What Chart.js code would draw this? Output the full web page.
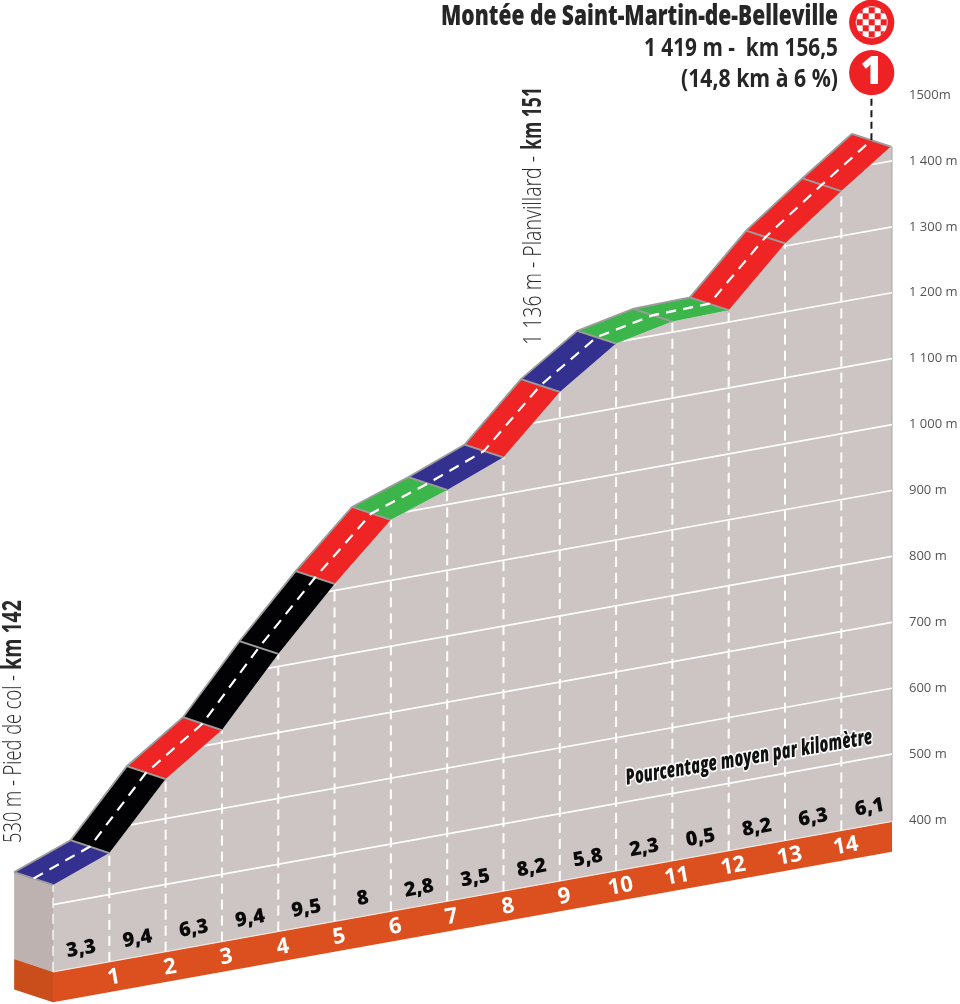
<!DOCTYPE html>
<html lang="fr">
<head>
<meta charset="utf-8">
<title>Montée de Saint-Martin-de-Belleville</title>
<script src="https://cdn.jsdelivr.net/npm/chart.js@4"></script>
<style>
    html, body { margin: 0; padding: 0; background: #fff; }
    canvas { display: block; }
</style>
</head>
<body>
<canvas id="profil" width="960" height="1004"></canvas>
<script>
/* =======================================================
   DATA
======================================================= */
const kmPoints = [0, 1, 2, 3, 4, 5, 6, 7, 8, 9, 10, 11, 12, 13, 14, 14.88];
const elevations = [530, 563, 660, 719, 819, 910, 992, 1022, 1056, 1140, 1198, 1216, 1218, 1304, 1368, 1422];
const segmentColors = ["blue", "black", "red", "black", "black", "red", "green", "blue", "red", "blue", "green", "green", "red", "red", "red"];
const percentLabels = ["3,3", "9,4", "6,3", "9,4", "9,5", "8", "2,8", "3,5", "8,2", "5,8", "2,3", "0,5", "8,2", "6,3", "6,1"];
const kmLabels = ["1", "2", "3", "4", "5", "6", "7", "8", "9", "10", "11", "12", "13", "14"];
const yTickValues = [400, 500, 600, 700, 800, 900, 1000, 1100, 1200, 1300, 1400, 1500];
const yTickLabels = ["400 m", "500 m", "600 m", "700 m", "800 m", "900 m", "1 000 m", "1 100 m", "1 200 m", "1 300 m", "1 400 m", "1500m"];

const PALETTE = { blue: "#33308f", black: "#020204", red: "#ee2524", green: "#3cb54a" };
const EDGE = "#9c9c9c";

// road depth, in km and metres
const DEPTH_KM = -0.69;
const DEPTH_M = 30;
const BASE_TOP = 398;
const BASE_BOTTOM = 352;
const SHEAR = -10.1 / 56.3;
const rightKm = 14.9;

/* =======================================================
   DATASETS (in paint order, reversed at the end)
======================================================= */
function poly(points, color) {
    return {
        data: points.map(p => ({ x: p[0], y: p[1] })),
        fill: "shape",
        backgroundColor: color,
        borderWidth: 0,
        pointRadius: 0,
        clip: false
    };
}

function stroke(points, color, width, dash) {
    return {
        data: points.map(p => ({ x: p[0], y: p[1] })),
        fill: false,
        borderColor: color,
        borderWidth: width,
        borderDash: dash || [],
        pointRadius: 0,
        clip: false
    };
}

function gridStart(level) {
    if (level < elevations[0]) return kmPoints[0];
    for (let i = 0; i < elevations.length - 1; i++) {
        if (level >= elevations[i] && level < elevations[i + 1]) {
            const t = (level - elevations[i]) / (elevations[i + 1] - elevations[i]);
            return kmPoints[i] + t * (kmPoints[i + 1] - kmPoints[i]);
        }
    }
    return null;
}

function buildDatasets() {
    const list = [];
    const profile = kmPoints.map((k, i) => [k, elevations[i]]);
    const upper = kmPoints.map((k, i) => [k + DEPTH_KM, elevations[i] + DEPTH_M]);
    const middle = kmPoints.map((k, i) => [k + DEPTH_KM / 2, elevations[i] + DEPTH_M / 2]);

    // side faces
    list.push(poly([[DEPTH_KM, BASE_TOP + DEPTH_M], [DEPTH_KM, elevations[0] + DEPTH_M], [0, elevations[0]], [0, BASE_TOP]], "#bdb2b0"));
    list.push(poly([[DEPTH_KM, BASE_BOTTOM + DEPTH_M], [DEPTH_KM, BASE_TOP + DEPTH_M], [0, BASE_TOP], [0, BASE_BOTTOM]], "#c94e1b"));

    // mountain body and base strip
    list.push(poly([[0, BASE_TOP], ...profile, [rightKm, elevations[elevations.length - 1]], [rightKm, BASE_TOP]], "#cdc5c4"));
    list.push(poly([[0, BASE_BOTTOM], [0, BASE_TOP], [rightKm, BASE_TOP], [rightKm, BASE_BOTTOM]], "#dc501f"));
    list.push(stroke([[0, BASE_TOP], [rightKm, BASE_TOP]], "#f3e4dc", 1.3));
    list.push(stroke([[rightKm, BASE_TOP], [rightKm, elevations[elevations.length - 1]]], "#a8a4a3", 1));

    // horizontal grid
    yTickValues.forEach(level => {
        const start = gridStart(level);
        if (start === null || level <= yTickValues[0]) return;
        list.push(stroke([[start, level], [rightKm, level]], "#ffffff", 1.7));
    });

    // km verticals
    kmPoints.slice(0, 15).forEach((k, i) => {
        list.push(stroke([[k, BASE_TOP], [k, elevations[i]]], "#ffffff", i === 0 ? 1.2 : 2, [10, 6]));
    });

    // road sections
    segmentColors.forEach((name, i) => {
        list.push(poly([upper[i], upper[i + 1], profile[i + 1], profile[i]], PALETTE[name]));
    });
    list.push(stroke(upper, EDGE, 2));
    profile.forEach((p, i) => {
        list.push(stroke([p, upper[i]], EDGE, 1.8));
    });
    list.push(stroke(middle, "#ffffff", 2.4, [10, 7]));

    // leader up to the climb badge
    const tip = middle[middle.length - 1];
    list.push(stroke([tip, [tip[0], 1504]], "#1a1a1a", 2, [7, 4.5]));

    return list.reverse();
}

/* =======================================================
   PLUGINS
======================================================= */
const shearPlugin = {
    id: "shear",
    beforeDatasetsDraw(chart) {
        const right = chart.scales.x.getPixelForValue(rightKm);
        chart.ctx.save();
        chart.ctx.transform(1, SHEAR, 0, 1, 0, -SHEAR * right);
    },
    afterDatasetsDraw(chart) {
        chart.ctx.restore();
    }
};

function toPixel(chart, km, metres) {
    const x = chart.scales.x.getPixelForValue(km);
    const right = chart.scales.x.getPixelForValue(rightKm);
    return { x, y: chart.scales.y.getPixelForValue(metres) + SHEAR * (x - right) };
}

// text squeezed to a given width, the installed fonts have no condensed cut
function fitText(ctx, text, font, x, y, width, align, angle, color) {
    ctx.save();
    ctx.font = font;
    ctx.fillStyle = color;
    ctx.textBaseline = "middle";
    ctx.textAlign = "left";
    const w = ctx.measureText(text).width;
    ctx.translate(x, y);
    ctx.rotate(angle);
    ctx.scale(width / w, 1);
    const startX = align === "right" ? -w : 0;
    ctx.fillText(text, startX, 0);
    ctx.restore();
}

function drawBadges(ctx) {
    const cx = 871.7, r = 22.6, cell = 6;

    ctx.fillStyle = "#ee2125";
    ctx.beginPath();
    ctx.arc(cx, 22.3, r, 0, Math.PI * 2);
    ctx.fill();

    ctx.save();
    ctx.beginPath();
    ctx.arc(cx, 22.3, 16, 0, Math.PI * 2);
    ctx.clip();
    ctx.fillStyle = "#ffffff";
    ctx.fillRect(cx - 17, 5, 34, 34);
    ctx.fillStyle = "#ee2125";
    for (let row = -3; row <= 3; row++) {
        for (let col = -3; col <= 3; col++) {
            if ((row + col + 12) % 2 === 0) {
                ctx.fillRect(cx + (col - 0.5) * cell, 22.3 + (row - 0.5) * cell, cell, cell);
            }
        }
    }
    ctx.restore();

    ctx.fillStyle = "#ee2125";
    ctx.beginPath();
    ctx.arc(cx, 72.7, r, 0, Math.PI * 2);
    ctx.fill();
    ctx.fillStyle = "#ffffff";
    ctx.font = '800 38px "Open Sans"';
    ctx.textAlign = "center";
    ctx.textBaseline = "middle";
    ctx.fillText("1", cx, 73);
}

const labelsPlugin = {
    id: "labels",
    afterDraw(chart) {
        const ctx = chart.ctx;
        const tilt = Math.atan(SHEAR);

        // percent per kilometre
        percentLabels.forEach((txt, i) => {
            const p = toPixel(chart, i + 0.5, 425);
            ctx.save();
            ctx.translate(p.x, p.y);
            ctx.rotate(tilt);
            ctx.font = '800 20px "Open Sans"';
            ctx.fillStyle = "#0a0a0a";
            ctx.textAlign = "center";
            ctx.textBaseline = "middle";
            ctx.fillText(txt, 0, 0);
            ctx.restore();
        });

        // km numbers on the strip
        kmLabels.forEach((txt, i) => {
            const p = toPixel(chart, i + 1.08, 373);
            ctx.save();
            ctx.translate(p.x, p.y);
            ctx.rotate(tilt);
            ctx.font = 'bold 22px "Open Sans"';
            ctx.fillStyle = "#ffffff";
            ctx.textAlign = "center";
            ctx.textBaseline = "middle";
            ctx.fillText(txt, 0, 0);
            ctx.restore();
        });

        // caption with a white halo
        ctx.save();
        ctx.translate(749, 758);
        ctx.rotate(-0.166);
        ctx.font = 'italic 800 22px "Open Sans"';
        const capW = ctx.measureText("Pourcentage moyen par kilomètre").width;
        ctx.scale(250 / capW, 1);
        ctx.textAlign = "center";
        ctx.textBaseline = "middle";
        ctx.strokeStyle = "#ffffff";
        ctx.lineWidth = 3.5;
        ctx.lineJoin = "round";
        ctx.strokeText("Pourcentage moyen par kilomètre", 0, 0);
        ctx.fillStyle = "#111111";
        ctx.fillText("Pourcentage moyen par kilomètre", 0, 0);
        ctx.restore();

        // title block
        fitText(ctx, "Montée de Saint-Martin-de-Belleville", '800 28px "Open Sans"', 838, 17, 397, "right", 0, "#262626");
        fitText(ctx, "1 419 m -  km 156,5", 'bold 25px "Open Sans"', 838, 49, 194, "right", 0, "#262626");
        fitText(ctx, "(14,8 km à 6 %)", 'bold 25px "Open Sans"', 838, 80, 157, "right", 0, "#262626");

        // rotated place names
        fitText(ctx, "1 136 m - Planvillard -", '300 26px "Open Sans"', 534, 345, 189, "left", -Math.PI / 2, "#2a2a2a");
        fitText(ctx, "km 151", 'bold 26px "Open Sans"', 534, 150, 63, "left", -Math.PI / 2, "#2a2a2a");
        fitText(ctx, "530 m - Pied de col -", '300 26px "Open Sans"', 14, 843, 168, "left", -Math.PI / 2, "#2a2a2a");
        fitText(ctx, "km 142", 'bold 26px "Open Sans"', 14, 670, 70, "left", -Math.PI / 2, "#2a2a2a");

        drawBadges(ctx);
    }
};

/* =======================================================
   CHART
======================================================= */
new Chart(document.getElementById("profil").getContext("2d"), {
    type: "line",
    data: { datasets: buildDatasets() },
    plugins: [shearPlugin, labelsPlugin],
    options: {
        responsive: false,
        animation: false,
        layout: { padding: { left: 0, right: 0, top: 95, bottom: 118 } },
        plugins: { legend: { display: false }, tooltip: { enabled: false } },
        scales: {
            x: { type: "linear", display: false, min: -53 / 56.3, max: rightKm },
            y: {
                type: "linear",
                position: "right",
                min: 300,
                max: 1500,
                grid: { display: false },
                border: { display: false },
                afterFit: s => { s.width = 68; },
                afterBuildTicks: s => { s.ticks = yTickValues.map(v => ({ value: v })); },
                ticks: {
                    padding: 9,
                    autoSkip: false,
                    color: "#555555",
                    font: { family: "Open Sans", size: 13 },
                    callback: v => yTickLabels[yTickValues.indexOf(v)]
                }
            }
        }
    }
});
</script>
</body>
</html>
